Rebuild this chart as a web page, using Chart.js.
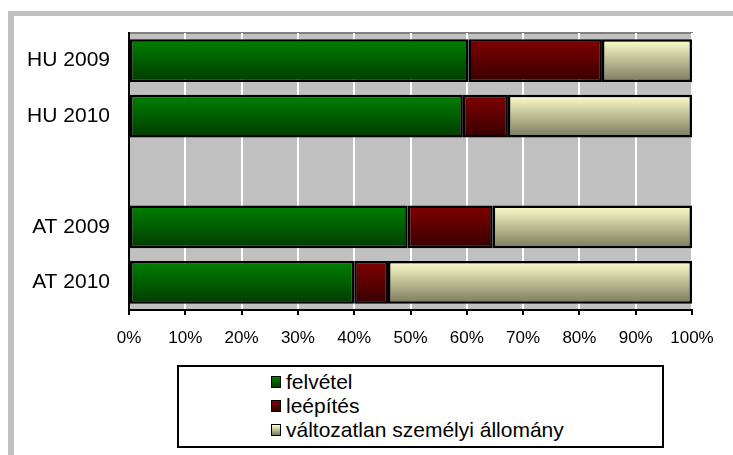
<!DOCTYPE html>
<html>
<head>
<meta charset="utf-8">
<script src="https://cdn.jsdelivr.net/npm/chart.js@4/dist/chart.umd.min.js"></script>
<style>
    body { margin: 0; background: #fff; font-family: "Liberation Sans", Arial, sans-serif; }
    #wrap { position: relative; width: 733px; height: 455px; }
    #legendBox {
        position: absolute; left: 177px; top: 365px; width: 483px; height: 79px;
        border: 2px solid #000; background: #fff; box-sizing: content-box;
    }
    #legendBox ul { list-style: none; margin: 0; padding: 3px 0 0 92px; }
    #legendBox li { font-size: 21px; line-height: 24px; height: 24px; color: #000; display: flex; align-items: center; }
    #legendBox .sw { width: 8px; height: 10px; border: 1.5px solid #000; margin-right: 5px; }
</style>
</head>
<body>
<div id="wrap">
    <canvas id="myChart" width="733" height="455"></canvas>
    <div id="legendBox"></div>
</div>
<script>
const categories = ["HU 2009", "HU 2010", "", "AT 2009", "AT 2010"];
const felvetel = [60.3, 59.3, null, 49.5, 40.0];
const leepites = [23.7, 8.0, null, 15.1, 6.0];
const valtozatlan = [16.0, 32.7, null, 35.4, 54.0];
const seriesNames = ["felvétel", "leépítés", "változatlan személyi állomány"];
const xTicks = [0, 10, 20, 30, 40, 50, 60, 70, 80, 90, 100];

// top / bottom colours of each gradient
const shades = [
    ["#008000", "#003c00"],
    ["#800000", "#380000"],
    ["#ffffcc", "#7a7a5e"]
];

function barGradient(ctx, i) {
    const chart = ctx.chart;
    const yScale = chart.scales.y;
    if (!chart.chartArea || !yScale) return shades[i][0];
    const yc = yScale.getPixelForValue(ctx.dataIndex);
    const half = (chart.chartArea.bottom - chart.chartArea.top) / categories.length * 0.76 / 2;
    const g = chart.ctx.createLinearGradient(0, yc - half, 0, yc + half);
    g.addColorStop(0, shades[i][0]);
    g.addColorStop(1, shades[i][1]);
    return g;
}

const frame = {
    id: 'frame',
    beforeDraw(chart) {
        const c = chart.ctx;
        const a = chart.chartArea;
        c.save();
        // outer grey frame, top and left
        c.fillStyle = '#c0c0c0';
        c.fillRect(8, 11, 733 - 8, 5);
        c.fillRect(8, 11, 6, 455 - 11);
        // plot background
        c.fillRect(a.left, a.top, a.right - a.left, a.bottom - a.top);
        c.strokeStyle = '#808080';
        c.lineWidth = 2;
        c.beginPath();
        c.moveTo(a.left, a.top);
        c.lineTo(a.right, a.top);
        c.lineTo(a.right, a.bottom);
        c.stroke();
        c.restore();
    }
};

const values = [felvetel, leepites, valtozatlan];
const ctx = document.getElementById('myChart').getContext('2d');
const myChart = new Chart(ctx, {
    type: 'bar',
    data: {
        labels: categories,
        datasets: values.map((v, i) => ({
            label: seriesNames[i],
            data: v,
            backgroundColor: c => barGradient(c, i),
            borderColor: '#000',
            borderWidth: 2.5,
            borderSkipped: false,
            barPercentage: 0.77,
            categoryPercentage: 1
        }))
    },
    options: {
        indexAxis: 'y',
        responsive: false,
        animation: false,
        layout: { padding: { top: 33, right: 41, left: 0, bottom: 105 } },
        plugins: {
            legend: { display: false },
            tooltip: { enabled: false }
        },
        scales: {
            x: {
                stacked: true,
                min: 0,
                max: 100,
                afterBuildTicks: s => { s.ticks = xTicks.map(v => ({ value: v })); },
                afterFit: s => { s.height = 40; },
                grid: { color: '#fff', lineWidth: 2, tickColor: '#000', tickLength: 5, tickWidth: 2 },
                border: { color: '#000', width: 2 },
                ticks: {
                    padding: 13,
                    color: '#000',
                    font: { family: 'Liberation Sans', size: 17 },
                    callback: v => v + '%'
                }
            },
            y: {
                stacked: true,
                afterFit: s => { s.width = 129; },
                grid: { display: false },
                border: { color: '#000', width: 2 },
                ticks: {
                    padding: 11,
                    color: '#000',
                    font: { family: 'Liberation Sans', size: 21 }
                }
            }
        }
    },
    plugins: [frame]
});

// legend built from the chart's datasets
const ul = document.createElement('ul');
myChart.data.datasets.forEach((ds, i) => {
    const li = document.createElement('li');
    const sw = document.createElement('span');
    sw.className = 'sw';
    sw.style.background = `linear-gradient(${shades[i][0]}, ${shades[i][1]})`;
    li.appendChild(sw);
    li.appendChild(document.createTextNode(ds.label));
    ul.appendChild(li);
});
document.getElementById('legendBox').appendChild(ul);
</script>
</body>
</html>
